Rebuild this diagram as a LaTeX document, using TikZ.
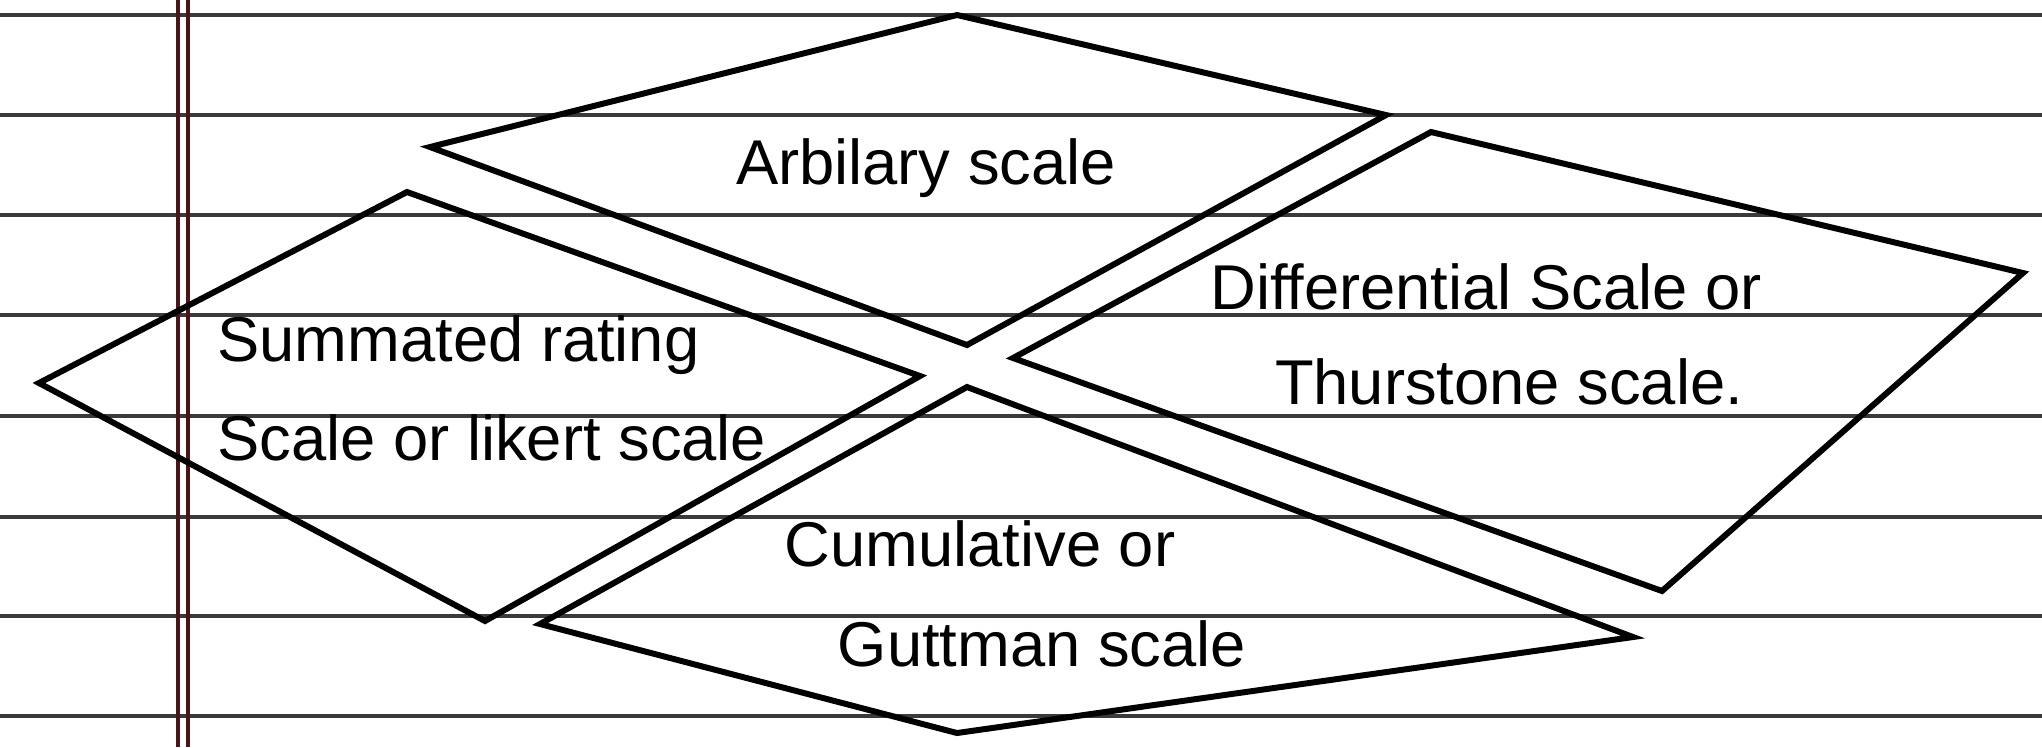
\documentclass[tikz,border=0pt]{standalone}
\usepackage{fontspec}
\setmainfont{Liberation Sans}
\usepackage{xcolor}
\usepackage{tikz}
\definecolor{margenrojo}{HTML}{4A1418}
\definecolor{rayado}{HTML}{3A3A3A}

\begin{document}
\begin{tikzpicture}[
    x=0.01cm, y=-0.01cm,
    rombo/.style={draw=black, line width=1.7pt, line join=miter},
    raya/.style={draw=rayado, line width=0.9pt},
    margen/.style={draw=margenrojo, line width=1.1pt},
    every node/.style={font=\fontsize{18}{26}\selectfont}
]
\useasboundingbox (0,0) rectangle (2042,747);
\foreach \y in {15,115,215,315,416,517,616,716}
    \draw[raya] (0,\y) -- (2042,\y);
\draw[margen] (178,0) -- (178,747);
\draw[margen] (188,0) -- (188,747);

\draw[rombo] (957,15) -- (1386,115) -- (967,345) -- (430,147) -- cycle;
\draw[rombo] (407,192) -- (920,376) -- (485,621) -- (39,383) -- cycle;
\draw[rombo] (1431,132) -- (2023,273) -- (1662,591) -- (1013,358) -- cycle;
\draw[rombo] (967,387) -- (1633,637) -- (957,733) -- (540,624) -- cycle;

\node (arbitrary) at (926,168) {Arbilary scale};
\node[anchor=west] (summated) at (205,345) {Summated rating};
\node[anchor=west] (likert) at (205,438) {Scale or likert scale};
\node (differential) at (1486,287) {Differential Scale or};
\node (thurstone) at (1509,382) {Thurstone scale.};
\node (cumulative) at (980,544) {Cumulative or};
\node (guttman) at (1042,644) {Guttman scale};
\end{tikzpicture}
\end{document}
